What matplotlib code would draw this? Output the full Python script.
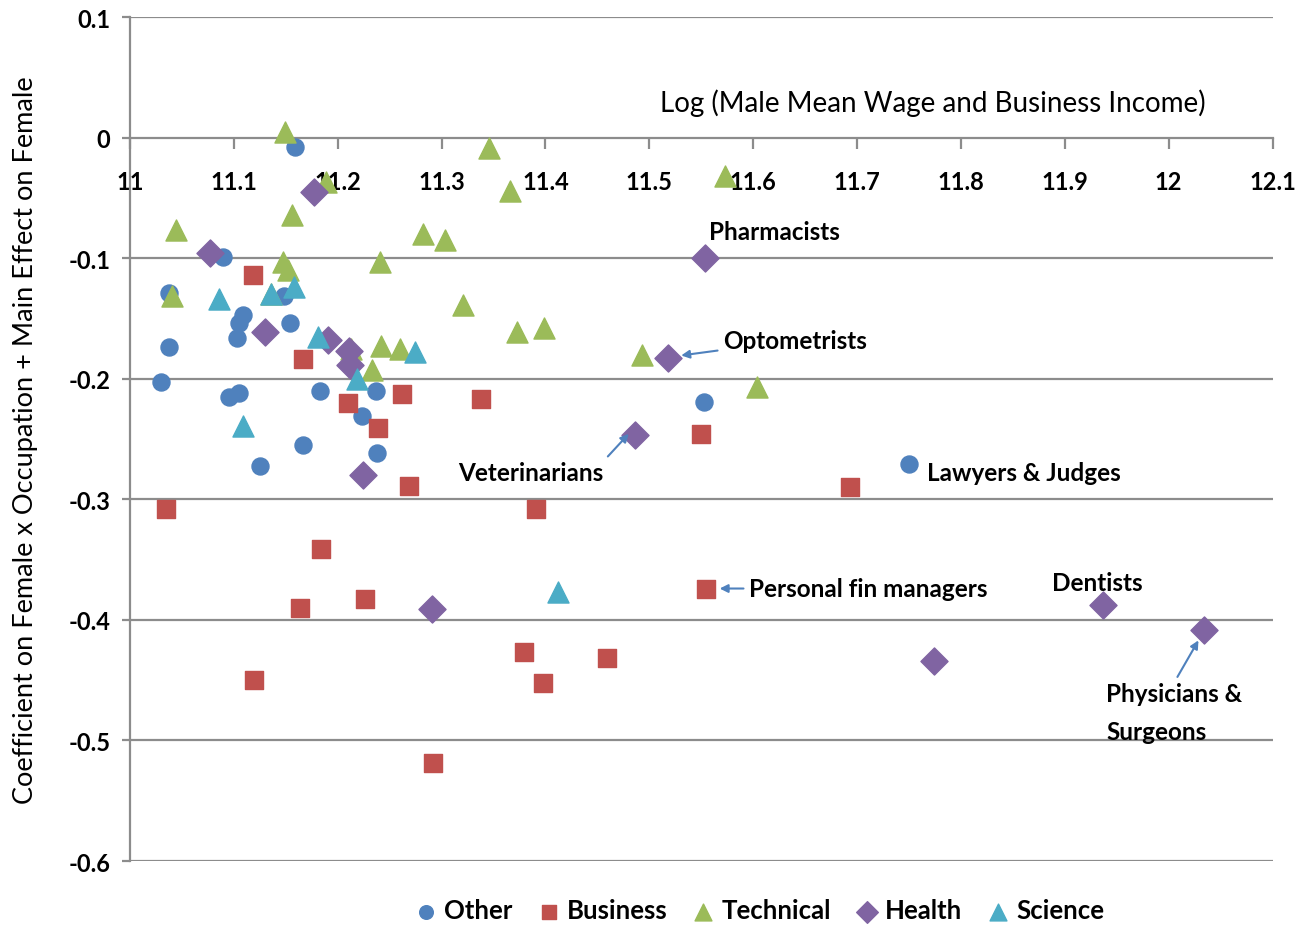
import matplotlib.pyplot as plt

plt.rcParams['font.family'] = ['Lato', 'DejaVu Sans']

# data: (log male wage, coefficient)
other_x = [11.159, 11.090, 11.038, 11.148, 11.109, 11.105, 11.103, 11.038, 11.154, 11.030,
           11.095, 11.105, 11.125, 11.183, 11.237, 11.223, 11.167, 11.238, 11.553, 11.750]
other_y = [-0.008, -0.099, -0.129, -0.131, -0.147, -0.154, -0.166, -0.174, -0.154, -0.203,
           -0.215, -0.212, -0.272, -0.210, -0.210, -0.231, -0.255, -0.262, -0.219, -0.271]

business_x = [11.118, 11.167, 11.210, 11.239, 11.262, 11.269, 11.338, 11.035, 11.184, 11.164,
              11.226, 11.119, 11.292, 11.391, 11.379, 11.398, 11.459, 11.550, 11.555, 11.693]
business_y = [-0.114, -0.184, -0.220, -0.241, -0.213, -0.289, -0.217, -0.308, -0.341, -0.390,
              -0.383, -0.450, -0.519, -0.308, -0.427, -0.452, -0.432, -0.246, -0.374, -0.290]

technical_x = [11.149, 11.189, 11.346, 11.366, 11.573, 11.156, 11.044, 11.282, 11.303, 11.147,
               11.152, 11.241, 11.040, 11.136, 11.321, 11.373, 11.399, 11.493, 11.604, 11.242,
               11.260, 11.213, 11.233]
technical_y = [0.005, -0.037, -0.009, -0.044, -0.032, -0.064, -0.077, -0.080, -0.085, -0.103,
               -0.110, -0.103, -0.131, -0.130, -0.139, -0.161, -0.158, -0.180, -0.207, -0.173,
               -0.175, -0.175, -0.193]

health_x = [11.177, 11.077, 11.130, 11.191, 11.211, 11.212, 11.224, 11.291, 11.554, 11.518,
            11.486, 11.774, 11.937, 12.034]
health_y = [-0.045, -0.096, -0.161, -0.168, -0.177, -0.189, -0.280, -0.391, -0.100, -0.183,
            -0.247, -0.434, -0.388, -0.408]

science_x = [11.086, 11.136, 11.158, 11.181, 11.219, 11.274, 11.109, 11.412]
science_y = [-0.134, -0.130, -0.124, -0.165, -0.200, -0.178, -0.239, -0.377]

y_ticks = [0.1, 0, -0.1, -0.2, -0.3, -0.4, -0.5, -0.6]
y_labels = ['0.1', '0', '-0.1', '-0.2', '-0.3', '-0.4', '-0.5', '-0.6']
x_ticks = [11, 11.1, 11.2, 11.3, 11.4, 11.5, 11.6, 11.7, 11.8, 11.9, 12, 12.1]
x_labels = ['11', '11.1', '11.2', '11.3', '11.4', '11.5', '11.6', '11.7',
            '11.8', '11.9', '12', '12.1']

fig = plt.figure(figsize=(13.08, 9.28), dpi=100)
ax = fig.add_axes([0.0994, 0.0711, 0.8735, 0.9095])

ax.scatter(other_x, other_y, s=150, marker='o', color='#4F81BD', label='Other', zorder=3)
ax.scatter(business_x, business_y, s=150, marker='s', color='#C0504D', label='Business', zorder=3)
ax.scatter(technical_x, technical_y, s=230, marker='^', color='#9BBB59', label='Technical', zorder=3)
ax.scatter(health_x, health_y, s=190, marker='D', color='#8064A2', label='Health', zorder=3)
ax.scatter(science_x, science_y, s=230, marker='^', color='#4BACC6', label='Science', zorder=3)

for s in ['top', 'right']:
    ax.spines[s].set_visible(False)
ax.spines['bottom'].set_position(('data', 0))
ax.spines['bottom'].set_color('#8c8c8c')
ax.spines['bottom'].set_linewidth(1.6)
ax.spines['left'].set_color('#8c8c8c')
ax.spines['left'].set_linewidth(1.6)

ax.set_xlim(11, 12.1)
ax.set_ylim(-0.6, 0.1)
ax.set_xticks(x_ticks)
ax.set_xticklabels(x_labels, fontsize=17, fontweight='bold')
ax.set_yticks(y_ticks)
ax.set_yticklabels(y_labels, fontsize=17, fontweight='bold')
ax.tick_params(axis='x', direction='out', length=8, width=1.6, color='#8c8c8c', pad=15)
ax.tick_params(axis='y', direction='out', length=6, width=1.6, color='#8c8c8c', pad=8)

for v in y_ticks:
    if v != 0:
        ax.axhline(v, color='#8c8c8c', lw=1.6, zorder=1)

ax.set_ylabel('Coefficient on Female x Occupation + Main Effect on Female',
              fontsize=19.5, labelpad=22)
ax.text(11.51, 0.022, 'Log (Male Mean Wage and Business Income)', fontsize=20)

arrow = dict(arrowstyle='-|>', color='#4F81BD', lw=1.5, mutation_scale=12)
lab = dict(fontsize=17.5, fontweight='bold')
ax.text(11.557, -0.084, 'Pharmacists', **lab)
ax.annotate('Optometrists', xy=(11.528, -0.181), xytext=(11.571, -0.168),
            va='center', arrowprops=arrow, **lab)
ax.annotate('Veterinarians', xy=(11.482, -0.244), xytext=(11.316, -0.278),
            va='center', arrowprops=dict(arrow, relpos=(0.97, 0.8)), **lab)
ax.text(11.767, -0.278, 'Lawyers & Judges', va='center', **lab)
ax.annotate('Personal fin managers', xy=(11.565, -0.374), xytext=(11.596, -0.374),
            va='center', arrowprops=arrow, **lab)
ax.text(11.888, -0.369, 'Dentists', va='center', **lab)
ax.annotate('Physicians &\nSurgeons', xy=(12.03, -0.415), xytext=(11.940, -0.477),
            va='center', ha='left', linespacing=1.8,
            arrowprops=dict(arrow, relpos=(0.5, 1)), **lab)

fig.legend(loc='lower center', bbox_to_anchor=(0.58, -0.02), ncol=5, frameon=False,
           prop=dict(size=18.5, weight='bold'), handlelength=1.0, handletextpad=0.2,
           columnspacing=0.9, markerscale=0.8)

fig.savefig('out.png', dpi=100)
